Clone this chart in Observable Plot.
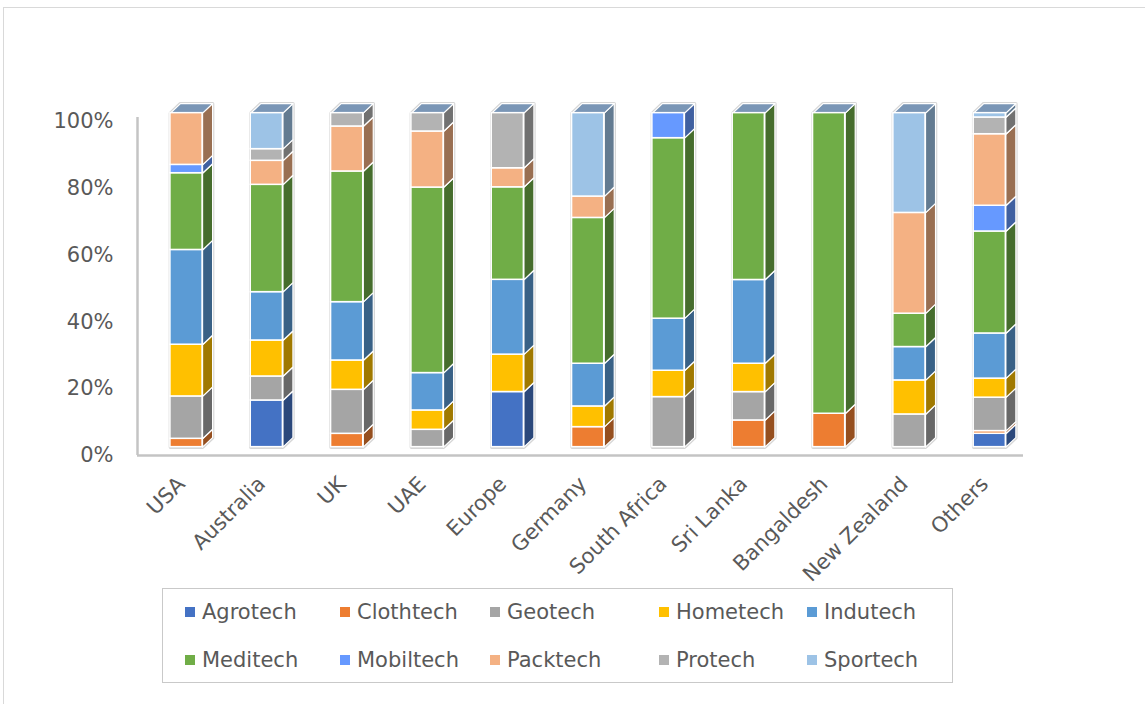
<!DOCTYPE html>
<html>
<head>
<meta charset="utf-8">
<script src="https://cdn.jsdelivr.net/npm/d3@7"></script>
<script src="https://cdn.jsdelivr.net/npm/@observablehq/plot@0.6"></script>
<style>
  body { margin: 0; background: #fff; font-family: "DejaVu Sans", sans-serif; }
  #wrap { position: relative; width: 1145px; height: 704px; overflow: hidden; background: #fff; }
  #frame { position: absolute; left: 3px; top: 7px; width: 1300px; height: 900px; border-top: 1px solid #d9d9d9; border-left: 1px solid #d9d9d9; }
  #chart { position: absolute; left: 0; top: 0; }
  #legend { position: absolute; left: 162px; top: 588px; width: 789px; height: 93px; border: 1.5px solid #c9c9c9; }
  .item { position: absolute; display: flex; align-items: center; font-size: 21px; color: #595959; white-space: nowrap; }
  .sw { width: 10px; height: 10px; margin-right: 7px; }
</style>
</head>
<body>
<div id="wrap">
  <div id="frame"></div>
  <div id="chart"></div>
  <div id="legend"></div>
</div>
<script>
// ---- data ----
const countries = ["USA","Australia","UK","UAE","Europe","Germany","South Africa","Sri Lanka","Bangaldesh","New Zealand","Others"];
const series = ["Agrotech","Clothtech","Geotech","Hometech","Indutech","Meditech","Mobiltech","Packtech","Protech","Sportech"];
const colors = ["#4472C4","#ED7D31","#A5A5A5","#FFC000","#5B9BD5","#70AD47","#6699FF","#F4B183","#B3B3B3","#9DC3E6"];
const agrotech  = [0, 14, 0, 0, 16.5, 0, 0, 0, 0, 0, 4];
const clothtech = [2.5, 0, 4, 0, 0, 6, 0, 8, 10, 0, 0.8];
const geotech   = [12.7, 7.2, 13.2, 5.2, 0, 0, 15, 8.5, 0, 9.8, 10];
const hometech  = [15.5, 10.8, 8.8, 5.8, 11.2, 6.2, 7.9, 8.5, 0, 10.2, 5.7];
const indutech  = [28.4, 14.5, 17.5, 11.2, 22.4, 12.8, 15.6, 25.1, 0, 10, 13.5];
const meditech  = [23, 32.2, 39.2, 55.6, 27.7, 43.7, 54.1, 50, 90, 10, 30.5];
const mobiltech = [2.5, 0, 0, 0, 0, 0, 7.5, 0, 0, 0, 7.7];
const packtech  = [15.5, 7.2, 13.5, 16.8, 5.7, 6.4, 0, 0, 0, 30.2, 21.4];
const protech   = [0, 3.5, 4, 5.5, 16.5, 0, 0, 0, 0, 0, 5];
const sportech  = [0, 10.8, 0, 0, 0, 25, 0, 0, 0, 29.9, 1.3];
const yTicks = [0, 20, 40, 60, 80, 100];

const values = [agrotech, clothtech, geotech, hometech, indutech, meditech, mobiltech, packtech, protech, sportech];

// ---- 3D geometry (in data units) ----
const HW = 0.2, DX = 0.125, DY = 2.85, OFF = 2.5;
const TOP = "#7a96b6";

const segs = [];
countries.forEach((c, i) => {
  const total = d3.sum(values, v => v[i]);
  let acc = 0;
  series.forEach((s, k) => {
    const v = values[k][i] / total * 100;
    if (v > 0) segs.push({i, s, color: colors[k], side: d3.rgb(colors[k]).darker(1.3).formatHex(), y1: acc, y2: acc + v});
    acc += v;
  });
});

const sidePts = [];
segs.forEach((d, j) => {
  const xa = d.i + HW, xb = d.i + HW + DX;
  [[xa, d.y1 + OFF], [xb, d.y1 + OFF + DY], [xb, d.y2 + OFF + DY], [xa, d.y2 + OFF]]
    .forEach(([x, y]) => sidePts.push({id: j, x, y, fill: d.side}));
});
const topPts = [], haloPts = [];
countries.forEach((c, i) => {
  const yt = 100 + OFF;
  [[i - HW, yt], [i + HW, yt], [i + HW + DX, yt + DY], [i - HW + DX, yt + DY]]
    .forEach(([x, y]) => topPts.push({id: i, x, y}));
  [[i - HW, OFF], [i - HW, yt], [i - HW + DX, yt + DY], [i + HW + DX, yt + DY], [i + HW + DX, OFF + DY], [i + HW, OFF]]
    .forEach(([x, y]) => haloPts.push({id: i, x, y}));
});

const chart = Plot.plot({
  width: 1145, height: 580,
  marginLeft: 137, marginRight: 122, marginTop: 121, marginBottom: 125,
  x: {domain: [-0.61, 10.42], axis: null},
  y: {domain: [0, 100]},
  color: {type: "identity"},
  style: {fontFamily: "DejaVu Sans", fontSize: "21px", color: "#595959", overflow: "visible", background: "transparent"},
  marks: [
    Plot.ruleY([0], {stroke: "#c4c4c4", strokeWidth: 2.5}),
    Plot.ruleX([-0.61], {y1: 0, y2: 101.2, stroke: "#c4c4c4", strokeWidth: 2.5}),
    Plot.axisY({ticks: yTicks, tickFormat: d => d + "%", tickSize: 0, tickPadding: 24, fontSize: 21, fill: "#595959", label: null}),
    Plot.line(haloPts, {x: "x", y: "y", z: "id", fill: "white", stroke: "#d6d6d6", strokeWidth: 3.5, curve: "linear-closed"}),
    Plot.line(sidePts, {x: "x", y: "y", z: "id", fill: "fill", stroke: "white", strokeWidth: 1.2, curve: "linear-closed"}),
    Plot.line(topPts, {x: "x", y: "y", z: "id", fill: TOP, stroke: "white", strokeWidth: 1.2, curve: "linear-closed"}),
    Plot.rect(segs, {x1: d => d.i - HW, x2: d => d.i + HW, y1: d => d.y1 + OFF, y2: d => d.y2 + OFF, fill: "color", stroke: "white", strokeWidth: 1.5}),
    Plot.text(countries, {x: (d, i) => i, y: 0, text: d => d, rotate: -45, textAnchor: "end", lineAnchor: "middle", dx: -5, dy: 25, fontSize: 21, fill: "#595959"})
  ]
});
document.getElementById("chart").appendChild(chart);

// ---- legend ----
const legend = document.getElementById("legend");
const colLeft = [22, 177, 327, 496, 644];
const rowTop = [23, 71];
series.forEach((s, k) => {
  const it = document.createElement("div");
  it.className = "item";
  it.style.left = colLeft[k % 5] + "px";
  it.style.top = (rowTop[Math.floor(k / 5)] - 13) + "px";
  it.style.height = "26px";
  const sw = document.createElement("span");
  sw.className = "sw";
  sw.style.background = colors[k];
  it.appendChild(sw);
  it.appendChild(document.createTextNode(s));
  legend.appendChild(it);
});
</script>
</body>
</html>
